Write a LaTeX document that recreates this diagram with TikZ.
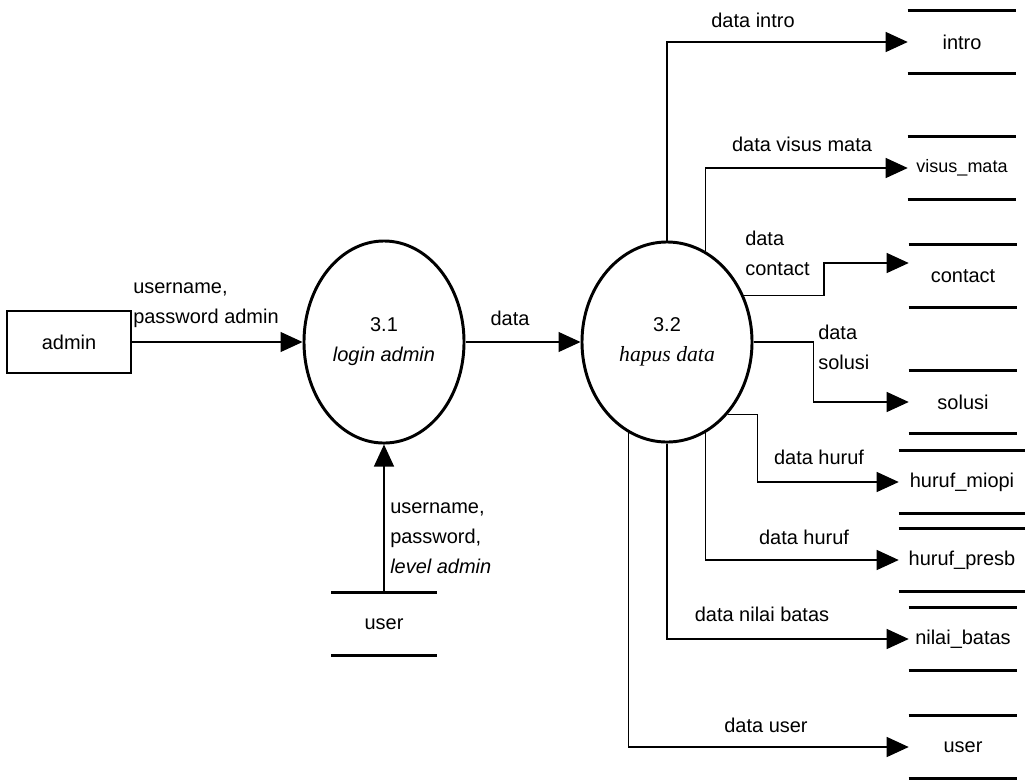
\documentclass[tikz,border=0pt]{standalone}
\usepackage{fontspec}
\setmainfont{Liberation Sans}
\newfontfamily\timesfont{Liberation Serif}
\usetikzlibrary{arrows.meta,shapes.geometric,calc}

\begin{document}
\begin{tikzpicture}[x=0.025cm, y=-0.025cm,
    font=\fontsize{14.2}{21.3}\selectfont,
    flow/.style={line width=0.85pt, -{Triangle[length=0.55cm, width=0.5cm]}},
    proc/.style={ellipse, draw, line width=2.1pt, inner sep=0pt, align=center},
    store/.style={minimum width=2.7cm, minimum height=1.55cm, inner sep=0pt},
    storeline/.style={line width=2.2pt},
    lbl/.style={inner sep=0pt, align=left}]
    \useasboundingbox (0,0) rectangle (1025,779);
    \node[draw, line width=0.9pt, minimum width=3.1cm, minimum height=1.55cm] (admin) at (69,342) {admin};
    \node[proc, minimum width=4cm, minimum height=5.05cm] (p31) at (384,342) {3.1\\\textit{login admin}};
    \node[proc, minimum width=4.25cm, minimum height=5cm] (p32) at (667,342) {3.2\\{\timesfont\itshape\fontsize{15.4}{21.3}\selectfont hapus data}};
    \node[store] (intro) at (962,42) {intro};
    \node[store] (visus) at (962,168) {\fontsize{12.8}{15}\selectfont visus\_mata};
    \node[store] (contact) at (963,276) {contact};
    \node[store] (solusi) at (963,402) {solusi};
    \node[store, minimum width=3.15cm] (miopi) at (962,482) {huruf\_miopi};
    \node[store, minimum width=3.15cm] (presb) at (962,560) {huruf\_presb};
    \node[store] (nilai) at (963,639) {nilai\_batas};
    \node[store] (user2) at (963,747) {user};
    \node[store, minimum width=2.63cm] (userdb) at (384,624) {user};
    \foreach \s in {intro,visus,contact,solusi,miopi,presb,nilai,user2,userdb}
        \draw[storeline] (\s.north west) -- (\s.north east) (\s.south west) -- (\s.south east);
    \draw[flow] (admin) -- (p31);
    \draw[flow] (p31) -- (p32);
    \draw[flow] (userdb) -- (p31);
    \draw[flow] (p32.north) |- (intro);
    \draw[flow] (p32.67) |- (visus);
    \draw[flow] (p32.31) -- ++(80,0) |- ($(contact.west)+(0,-13)$);
    \draw[flow] (p32.east) -- ++(60,0) |- (solusi);
    \draw[flow] (p32.-50) -- ++(30,0) |- (miopi);
    \draw[flow] (p32.-67) |- (presb);
    \draw[flow] (p32.south) |- (nilai);
    \draw[flow] (p32.-113) |- (user2);
    \node[lbl, anchor=west] (ladmin) at (133,305) {username,\\password admin};
    \node[lbl] (ldata) at (510,318) {data};
    \node[lbl, anchor=west] (luser) at (390,538) {username,\\password,\\\textit{level admin}};
    \node[lbl] (lintro) at (753,20) {data intro};
    \node[lbl] (lvisus) at (802,144) {data visus mata};
    \node[lbl, anchor=west] (lcontact) at (745,253) {data\\contact};
    \node[lbl, anchor=west] (lsolusi) at (818,347) {data\\solusi};
    \node[lbl] (lmiopi) at (819,457) {data huruf};
    \node[lbl] (lpresb) at (804,537) {data huruf};
    \node[lbl] (lnilai) at (762,614) {data nilai batas};
    \node[lbl] (luser2) at (766,725) {data user};
\end{tikzpicture}
\end{document}
